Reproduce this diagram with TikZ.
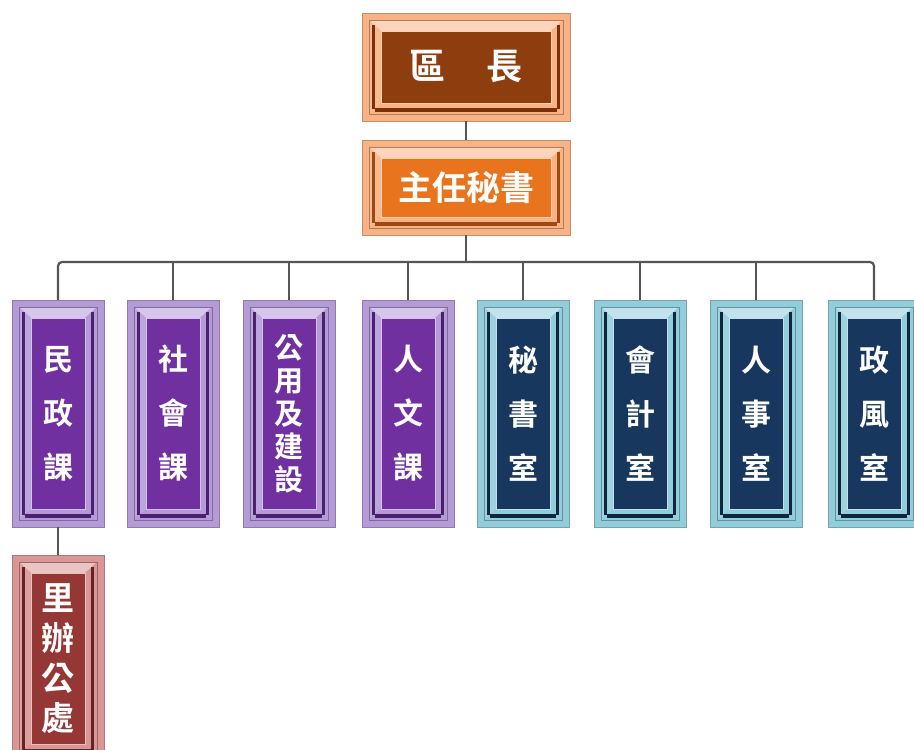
\documentclass[tikz,border=0pt]{standalone}
\usepackage{fontspec}
\newfontfamily\cjk{Noto Sans CJK TC}[BoldFont={* Bold}]
\definecolor{oL}{HTML}{F8B283}\definecolor{oM}{HTML}{7A300A}\definecolor{oD}{HTML}{8E3E0E}
\definecolor{pL}{HTML}{F8B283}\definecolor{pM}{HTML}{9A4A12}\definecolor{pD}{HTML}{E8741E}
\definecolor{vL}{HTML}{B59AD8}\definecolor{vM}{HTML}{4A2070}\definecolor{vD}{HTML}{7030A0}
\definecolor{bL}{HTML}{92CDDC}\definecolor{bM}{HTML}{10263F}\definecolor{bD}{HTML}{17375E}
\definecolor{rL}{HTML}{D99694}\definecolor{rM}{HTML}{632523}\definecolor{rD}{HTML}{953735}
\definecolor{lineC}{HTML}{555555}
% #1 scheme, #2 name, #3 x1, #4 y1, #5 x2, #6 y2, #7 font size, #8 baselineskip, #9 text
\newcommand\bevbox[9]{%
  \pgfmathsetmacro\bvAx{#3+7}\pgfmathsetmacro\bvAy{#4+7}%
  \pgfmathsetmacro\bvBx{#5-7}\pgfmathsetmacro\bvBy{#6-7}%
  \pgfmathsetmacro\bvCx{#3+19}\pgfmathsetmacro\bvCy{#4+18}%
  \pgfmathsetmacro\bvDx{#5-19}\pgfmathsetmacro\bvDy{#6-18}%
  \fill[#1L] (#3,#4) rectangle (#5,#6);
  \draw[#1L!80!black,line width=0.6] (#3,#4) rectangle (#5,#6);
  \fill[#1L!55!white] (\bvAx,\bvAy) -- (\bvBx,\bvAy) -- (\bvDx,\bvCy) -- (\bvCx,\bvCy) -- cycle;
  \fill[#1L!90!white] (\bvAx,\bvAy) -- (\bvCx,\bvCy) -- (\bvCx,\bvDy) -- (\bvAx,\bvBy) -- cycle;
  \fill[#1L] (\bvBx,\bvAy) -- (\bvBx,\bvBy) -- (\bvDx,\bvDy) -- (\bvDx,\bvCy) -- cycle;
  \fill[#1L] (\bvAx,\bvBy) -- (\bvBx,\bvBy) -- (\bvDx,\bvDy) -- (\bvCx,\bvDy) -- cycle;
  \fill[#1M] (\bvAx+3,\bvAy+5) rectangle (\bvAx+6,\bvBy-5);
  \fill[#1M] (\bvBx-6,\bvAy+5) rectangle (\bvBx-3,\bvBy-5);
  \fill[#1M] (\bvAx+6,\bvBy-6) rectangle (\bvBx-6,\bvBy-2);
  \draw[#1L!70!black,line width=0.5] (\bvAx,\bvAy) rectangle (\bvBx,\bvBy);
  \fill[#1D] (\bvCx,\bvCy) rectangle (\bvDx,\bvDy);
  \draw[#1L!60!white,line width=0.8] (\bvCx,\bvCy) rectangle (\bvDx,\bvDy);
  \node[boxtext,font=\cjk\bfseries\fontsize{#7}{#8}\selectfont,
        minimum width=#5-#3,minimum height=#6-#4] (#2) at ({(#3+#5)/2},{(#4+#6)/2}) {#9};
}
\tikzset{
  boxtext/.style={inner sep=0pt,text=white,align=center},
  conn/.style={draw=lineC,line width=2.2pt},
}
\begin{document}
\begin{tikzpicture}[x=1pt,y=-1pt]
\clip (0,0) rectangle (914,750);
\fill[white] (0,0) rectangle (914,750);
\bevbox{o}{qz}{362}{13}{570}{121}{36}{36}{區\hspace{1.15em}長}
\bevbox{p}{zr}{362}{140}{570}{235}{34}{34}{主任秘書}
\bevbox{v}{c1}{12}{300}{104}{527}{30}{54}{民\\政\\課}
\bevbox{v}{c2}{127}{300}{219}{527}{30}{54}{社\\會\\課}
\bevbox{v}{c3}{243}{300}{335}{527}{29}{33}{公\\用\\及\\建\\設}
\bevbox{v}{c4}{362}{300}{454}{527}{30}{54}{人\\文\\課}
\bevbox{b}{c5}{477}{300}{569}{527}{30}{54}{秘\\書\\室}
\bevbox{b}{c6}{594}{300}{686}{527}{30}{54}{會\\計\\室}
\bevbox{b}{c7}{710}{300}{802}{527}{30}{54}{人\\事\\室}
\bevbox{b}{c8}{828}{300}{920}{527}{30}{54}{政\\風\\室}
\bevbox{r}{ld}{12}{555}{104}{762}{33}{40}{里\\辦\\公\\處}
\coordinate (bus) at (466,262);
\draw[conn] (qz.south) -- (zr.north);
\draw[conn] (zr.south) -- (bus);
\draw[conn,rounded corners=4pt] (c1.north) -- (c1.north |- bus) -- (c8.north |- bus) -- (c8.north);
\foreach \n in {c2,c3,c4,c5,c6,c7}{\draw[conn] (\n.north) -- (\n.north |- bus);}
\draw[conn] (c1.south) -- (ld.north);
\end{tikzpicture}
\end{document}
